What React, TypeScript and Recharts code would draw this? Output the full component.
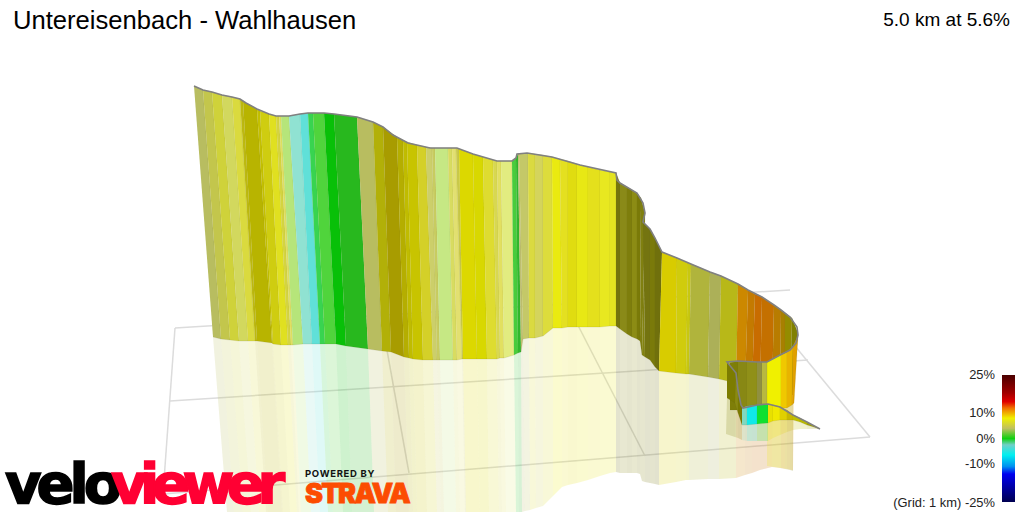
import { ScatterChart, Scatter, XAxis, YAxis, ReferenceArea } from 'recharts';

// climb: the long wall from the start to the first hairpin
const climbTopX = [194, 203, 212, 222, 232, 240, 243, 257, 260, 269, 276, 279, 281, 289, 300, 308, 313, 324, 334, 357, 373, 383, 397, 403, 407, 417, 426, 432, 435, 448, 452, 456, 459, 473, 483, 493, 497, 501, 512, 516, 518, 519, 528, 535, 543, 552, 560, 568, 577, 588, 600, 610, 616];
const climbTopY = [86, 90, 92, 95, 97, 99, 101, 109, 111, 114, 116, 116, 116, 116, 114, 113, 113, 113, 114, 117, 122, 127, 137, 140, 142, 145, 147, 148, 148, 148, 148, 148, 149, 154, 157, 160, 161, 161, 161, 158, 154, 154, 153, 154, 155, 157, 159, 161, 164, 167, 170, 172, 173];
const climbBaseX = [213, 221, 230, 239, 248, 255, 257, 272, 273, 281, 288, 291, 293, 303, 312, 320, 325, 336, 346, 368, 382, 391, 404, 409, 413, 423, 433, 437, 440, 453, 457, 462, 463, 477, 487, 497, 500, 504, 514, 518, 521, 523, 529, 535, 543, 553, 562, 568, 577, 588, 600, 610, 616];
const climbBaseY = [337, 339, 340, 341, 341, 341, 341, 343, 344, 345, 345, 345, 345, 344, 344, 344, 344, 344, 346, 349, 351, 352, 357, 358, 359, 360, 360, 360, 360, 360, 360, 359, 359, 359, 359, 359, 358, 358, 355, 353, 352, 339, 338, 338, 336, 328, 328, 327, 327, 327, 327, 326, 326];
const climbMirrorX = [227, 234, 243, 251, 259, 266, 268, 282, 283, 290, 297, 299, 301, 311, 320, 328, 333, 343, 352, 374, 388, 396, 409, 413, 417, 427, 437, 441, 444, 456, 460, 465, 466, 480, 489, 499, 502, 506, 516, 519, 522, 525, 530, 536, 543, 553, 562, 568, 577, 588, 600, 610, 616];
const climbMirrorY = [512, 512, 512, 512, 512, 512, 512, 512, 512, 512, 512, 512, 512, 512, 512, 512, 512, 512, 512, 512, 512, 512, 512, 512, 512, 512, 512, 512, 512, 512, 512, 512, 512, 512, 512, 512, 512, 512, 512, 512, 512, 511, 510, 508, 506, 496, 487, 485, 483, 480, 476, 473, 472];
const climbGrades = ['#b8bd60', '#c3c64c', '#cfd23a', '#d2d85e', '#dada3e', '#bdb910', '#b8b400', '#c4c000', '#cfcd10', '#e0e020', '#d4d440', '#e0e060', '#b6e57a', '#90e2d2', '#60e0d8', '#38d450', '#50d43c', '#08c008', '#28b81e', '#b8bd60', '#b2b008', '#a89c00', '#b5ae00', '#c0bc00', '#c8c400', '#d4d028', '#cccf6a', '#c8cc60', '#c6e884', '#d8dc60', '#e2e070', '#c9c94a', '#dcd800', '#d8d800', '#dedc30', '#d8d850', '#e2e060', '#e2ec80', '#48cc3c', '#30b82c', '#c0c070', '#c4c868', '#dada40', '#d4d45c', '#dddc3c', '#eaea10', '#e4e020', '#e0dc10', '#e8e814', '#e4e01c', '#e8e820', '#e4e420'];

// bend: dark reversed stretch, then round to the orange ramp
const bendTopX = [616, 620, 627, 632, 637, 641, 645, 643, 650, 655, 662, 677, 688, 691, 710, 721, 738, 748, 755, 762, 774, 781, 785, 792, 798];
const bendTopY = [173, 183, 187, 190, 193, 198, 213, 222, 229, 238, 252, 258, 263, 264, 272, 276, 284, 290, 294, 297, 305, 310, 313, 318, 333];
const bendBaseX = [616, 620, 627, 632, 637, 640, 642, 645, 650, 655, 659, 676, 686, 689, 708, 719, 736, 745, 752, 760, 772, 780, 785, 790, 793];
const bendBaseY = [326, 329, 334, 337, 339, 341, 355, 357, 360, 367, 371, 373, 374, 374, 377, 379, 383, 386, 388, 390, 395, 395, 395, 395, 395];
const bendMirrorX = [616, 620, 627, 632, 637, 640, 642, 645, 650, 655, 659, 676, 686, 689, 708, 719, 736, 745, 752, 760, 772, 780, 785, 790, 793];
const bendMirrorY = [472, 473, 473, 473, 473, 474, 481, 482, 483, 484, 485, 482, 480, 480, 479, 479, 478, 475, 473, 470, 467, 468, 469, 470, 471];
const bendGrades = ['#74740c', '#8a8a18', '#7e7e0c', '#8c8c14', '#7a7a08', '#808010', '#828210', '#747410', '#7a7a0a', '#70700c', '#d8cc00', '#d0cc0c', '#c8c810', '#b0b43c', '#acb058', '#b8b818', '#cc8800', '#c47a00', '#c86c00', '#c47000', '#b87c00', '#a88000', '#948c00', '#808000'];

// front: the yellow piece coming back towards the viewer
const frontTopX = [767, 781, 787, 793, 798];
const frontTopY = [362, 355, 352, 346, 335];
const frontBaseX = [767, 781, 787, 792, 794];
const frontBaseY = [405, 408, 408, 405, 403];
const frontMirrorX = [767, 781, 787, 792, 793];
const frontMirrorY = [466, 468, 469, 470, 470];
const frontGrades = ['#f0f000', '#f0c800', '#e8b400', '#e0a000'];

// hairpin: back of the loop
const hairpinTopX = [730, 738, 747, 757, 762, 767];
const hairpinTopY = [363, 361, 361, 362, 362, 362];
const hairpinBaseX = [730, 738, 747, 757, 762, 767];
const hairpinBaseY = [410, 410, 407, 405, 404, 404];
const hairpinGrades = ['#7e7e08', '#888814', '#909018', '#909040', '#b8b840'];

const turnTopX = [727, 736, 738, 742];
const turnTopY = [362, 373, 390, 408];
const turnBaseX = [727, 735, 738, 742];
const turnBaseY = [398, 403, 413, 425];
const turnMirrorX = [726, 735, 738, 742];
const turnMirrorY = [434, 437, 438, 440];
const turnGrades = ['#7c7c00', '#8a8a10', '#7a7a00'];

// finish: last short ramp out to the tip
const finishX = [742, 747, 757, 768, 773, 780, 787, 793, 800, 807, 820];
const finishTopY = [408, 406, 405, 404, 405, 407, 410, 415, 418, 422, 429];
const finishBaseY = [425, 425, 424, 423, 421, 420, 420, 420, 422, 425, 429];
const finishMirrorY = [440, 441, 441, 441, 438, 435, 432, 430, 429, 429, 429];
const finishGrades = ['#80d8c0', '#10e8e8', '#10e030', '#e8e000', '#f0e800', '#e0d000', '#c8b800', '#c0c000', '#b8b800', '#a0a000'];

const outlineX = [194, 203, 212, 222, 232, 240, 246, 257, 269, 276, 289, 300, 308, 324, 334, 357, 373, 383, 393, 408, 430, 457, 473, 497, 512, 516, 517, 527, 552, 580, 616, 617, 620, 637, 643, 645, 643, 650, 655, 662, 677, 691, 710, 721, 738, 748, 762, 774, 781, 790, 797, 798, 796, 790, 780, 767, 757, 738, 727, 736, 738, 741, 743, 757, 768, 780, 793, 807, 820];
const outlineY = [86, 90, 92, 95, 97, 99, 103, 109, 114, 116, 116, 114, 113, 113, 114, 117, 122, 127, 135, 143, 148, 148, 154, 161, 161, 158, 154, 153, 157, 165, 173, 180, 183, 193, 203, 213, 222, 229, 238, 252, 258, 264, 272, 276, 284, 290, 297, 305, 310, 317, 327, 335, 343, 350, 355, 362, 362, 361, 362, 373, 390, 405, 408, 405, 404, 407, 415, 422, 429];

// ground grid, pairs of x and y
const gridLines = [
  { x: [175, 790], y: [328, 290] },
  { x: [170, 808], y: [401, 360] },
  { x: [163, 870], y: [494, 437] },
  { x: [175, 163], y: [328, 494] },
  { x: [378, 409], y: [300, 473] },
  { x: [565, 645], y: [300, 456] },
  { x: [790, 870], y: [340, 437] },
];

const scaleStops = [
  { at: 0, colour: '#4a0000' },
  { at: 0.14, colour: '#a00000' },
  { at: 0.21, colour: '#e00000' },
  { at: 0.26, colour: '#f07000' },
  { at: 0.34, colour: '#f0f000' },
  { at: 0.42, colour: '#c0c060' },
  { at: 0.5, colour: '#10d010' },
  { at: 0.55, colour: '#70d0c8' },
  { at: 0.63, colour: '#00f0f0' },
  { at: 0.72, colour: '#0090f0' },
  { at: 0.78, colour: '#0000f0' },
  { at: 1, colour: '#000050' },
];
const scaleLabels = [
  { text: '25%', y: 379 },
  { text: '10%', y: 417 },
  { text: '0%', y: 443 },
  { text: '-10%', y: 468 },
  { text: '(Grid: 1 km) -25%', y: 507 },
];

const noMarker = () => <g />;

// one polygon per strip between two neighbouring edges
const strips = (ax: number[], ay: number[], bx: number[], by: number[], grades: string[]) =>
  grades.map((colour, i) => ({
    colour,
    points: [
      { x: ax[i], y: ay[i] },
      { x: ax[i + 1], y: ay[i + 1] },
      { x: bx[i + 1], y: by[i + 1] },
      { x: bx[i], y: by[i] },
    ],
  }));

const mirrors = [
  ...strips(climbBaseX, climbBaseY, climbMirrorX, climbMirrorY, climbGrades),
  ...strips(bendBaseX, bendBaseY, bendMirrorX, bendMirrorY, bendGrades),
  ...strips(frontBaseX, frontBaseY, frontMirrorX, frontMirrorY, frontGrades),
  ...strips(turnBaseX, turnBaseY, turnMirrorX, turnMirrorY, turnGrades),
  ...strips(finishX, finishBaseY, finishX, finishMirrorY, finishGrades),
];
const walls = [
  ...strips(climbTopX, climbTopY, climbBaseX, climbBaseY, climbGrades),
  ...strips(bendTopX, bendTopY, bendBaseX, bendBaseY, bendGrades),
  ...strips(frontTopX, frontTopY, frontBaseX, frontBaseY, frontGrades),
  ...strips(hairpinTopX, hairpinTopY, hairpinBaseX, hairpinBaseY, hairpinGrades),
  ...strips(turnTopX, turnTopY, turnBaseX, turnBaseY, turnGrades),
  ...strips(finishX, finishTopY, finishX, finishBaseY, finishGrades),
];
const outline = outlineX.map((x, i) => ({ x, y: outlineY[i] }));

const sans = '"Liberation Sans", Arial, sans-serif';
const heavy = '"DejaVu Sans", sans-serif';

export default function App() {
  return (
    <div style={{ position: 'absolute', left: 0, top: 0, width: 1024, height: 512, overflow: 'hidden', background: '#fff' }}>
      <ScatterChart width={1024} height={512} margin={{ top: 0, right: 0, bottom: 0, left: 0 }}>
        <defs>
          <linearGradient id="gradeScale" x1="0" y1="0" x2="0" y2="1">
            {scaleStops.map((s) => (
              <stop key={s.at} offset={s.at} stopColor={s.colour} />
            ))}
          </linearGradient>
        </defs>
        <XAxis type="number" dataKey="x" domain={[0, 1024]} hide />
        <YAxis type="number" dataKey="y" domain={[0, 512]} reversed hide />
        {gridLines.map((g, i) => (
          <Scatter
            key={`grid${i}`}
            data={g.x.map((x, j) => ({ x, y: g.y[j] }))}
            shape={noMarker}
            line={{ stroke: '#dcdcdc', strokeWidth: 1.5, fill: 'none' }}
            isAnimationActive={false}
          />
        ))}
        {mirrors.map((m, i) => (
          <Scatter
            key={`mirror${i}`}
            data={m.points}
            shape={noMarker}
            line={{ fill: m.colour, fillOpacity: 0.2, stroke: 'none' }}
            isAnimationActive={false}
          />
        ))}
        {walls.map((w, i) => (
          <Scatter
            key={`wall${i}`}
            data={w.points}
            shape={noMarker}
            line={{ fill: w.colour, stroke: '#5a5a28', strokeOpacity: 0.15, strokeWidth: 0.8 }}
            isAnimationActive={false}
          />
        ))}
        <Scatter
          data={outline}
          shape={noMarker}
          line={{ stroke: '#808080', strokeWidth: 1.6, fill: 'none' }}
          isAnimationActive={false}
        />
        <ReferenceArea x1={1002} x2={1015} y1={375} y2={502} fill="url(#gradeScale)" fillOpacity={1} stroke="none" />
      </ScatterChart>
      <svg width={1024} height={512} style={{ position: 'absolute', left: 0, top: 0 }}>
        <text x={13} y={29} fontFamily={sans} fontSize={25.6} fill="#000">Untereisenbach - Wahlhausen</text>
        <text x={1010} y={26} textAnchor="end" fontFamily={sans} fontSize={19} fill="#000">5.0 km at 5.6%</text>
        {scaleLabels.map((l) => (
          <text key={l.text} x={995} y={l.y} textAnchor="end" fontFamily={sans} fontSize={12.9} fill="#222">{l.text}</text>
        ))}
        <text x={5} y={503} fontFamily={heavy} fontWeight={700} fontSize={56} letterSpacing={-5} stroke="#000" strokeWidth={1.6} fill="#000">velo</text>
        <text x={111} y={503} fontFamily={heavy} fontWeight={700} fontSize={56} letterSpacing={-7.4} stroke="#ff0033" strokeWidth={1.6} fill="#ff0033">viewer</text>
        <text x={305} y={477} fontFamily="Inter" fontWeight={700} fontSize={9.5} letterSpacing={0.7} fill="#111">POWERED BY</text>
        <text x={305} y={503} fontFamily="Inter" fontWeight={900} fontSize={27} letterSpacing={-1.7} stroke="#fc4c02" strokeWidth={0.8} fill="#fc4c02">STRAVA</text>
      </svg>
    </div>
  );
}
